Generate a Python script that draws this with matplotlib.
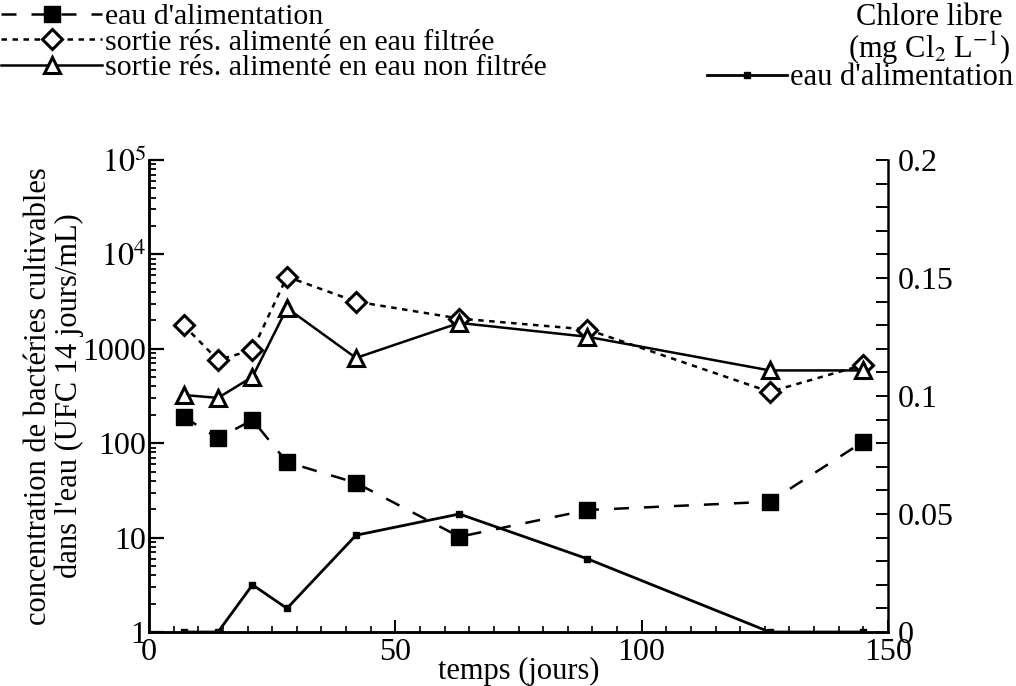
import numpy as np
import matplotlib
matplotlib.use("Agg")
import matplotlib.pyplot as plt
from matplotlib.ticker import FixedLocator, LogLocator, NullFormatter, MultipleLocator

plt.rcParams['font.family'] = ['Liberation Serif', 'DejaVu Serif']
plt.rcParams['font.size'] = 22
plt.rcParams['mathtext.fontset'] = 'stix'

# jours de prélèvement
jours = [7, 14, 21, 28, 42, 63, 89, 126, 145]
# bactéries cultivables (UFC 14 jours/mL)
eau_alim = [190, 113, 176, 63, 38, 10.2, 19.6, 24, 104]
sortie_filtree = [1780, 760, 970, 5800, 3160, 2090, 1600, 350, 675]
sortie_non_filtree = [324, 302, 505, 2700, 800, 1880, 1340, 590, 590]
# chlore libre (mg Cl2/L)
chlore = [0, 0, 0.02, 0.01, 0.041, 0.05, 0.031, 0, 0]

fig = plt.figure(figsize=(10.16, 6.86), dpi=100)
ax = fig.add_axes([0.1467, 0.0787, 0.874 - 0.1467, 0.7668 - 0.0787])
ax2 = ax.twinx()

l1, = ax.plot(jours, eau_alim, color='k', lw=1.8, dashes=(6, 6), marker='s', ms=11,
              mfc='k', mec='k', label="eau d'alimentation")
l2, = ax.plot(jours, sortie_filtree, color='k', lw=1.8, dashes=(2.2, 2.2), marker='D', ms=10,
              mfc='white', mec='k', mew=2.2, label="sortie rés. alimenté en eau filtrée")
l3, = ax.plot(jours, sortie_non_filtree, color='k', lw=1.8, ls='-', marker='^', ms=12,
              mfc='white', mec='k', mew=2.2, label="sortie rés. alimenté en eau non filtrée")
l4, = ax2.plot(jours, chlore, color='k', lw=2, ls='-', marker='s', ms=4,
               label="eau d'alimentation")

ax.set_yscale('log')
ax.set_ylim(1, 1e5)
ax.set_xlim(0, 150)
ax.yaxis.set_major_locator(FixedLocator([1, 10, 100, 1000, 1e4, 1e5]))
ax.set_yticklabels(['1', '10', '100', '1000', r'$10^4$', r'$10^5$'])
ax.yaxis.set_minor_locator(LogLocator(base=10, subs=np.arange(2, 10)))
ax.yaxis.set_minor_formatter(NullFormatter())
ax.xaxis.set_major_locator(MultipleLocator(50))
ax.xaxis.set_minor_locator(MultipleLocator(5))

ax2.set_ylim(0, 0.2)
ax2.yaxis.set_major_locator(FixedLocator([0, 0.05, 0.1, 0.15, 0.2]))
ax2.set_yticklabels(['0', '0.05', '0.1', '0.15', '0.2'])
ax2.yaxis.set_minor_locator(MultipleLocator(0.01))

for a in (ax, ax2):
    a.spines['top'].set_visible(False)
    for s in a.spines.values():
        s.set_linewidth(1.8)
ax.spines['right'].set_visible(False)

ax.tick_params(axis='y', which='major', direction='in', length=11, width=1.6, pad=2, labelsize=23)
ax.tick_params(axis='y', which='minor', direction='in', length=5, width=1.3)
ax.tick_params(axis='x', which='major', direction='in', length=9, width=1.4, pad=4, labelsize=23)
ax.tick_params(axis='x', which='minor', direction='in', length=4, width=1.2)
ax2.tick_params(axis='y', which='both', direction='in', length=9, width=1.4, pad=7, labelsize=23)

ax.set_xlabel('temps (jours)', labelpad=-7)
ax.set_ylabel("concentration de bactéries cultivables\ndans l'eau (UFC 14 jours/mL)",
              labelpad=-1, linespacing=1.05)

fig.legend(handles=[l1, l2, l3], loc='upper left', bbox_to_anchor=(0.0, 0.997),
           frameon=False, fontsize=21.5, handlelength=3.35, handletextpad=0.12, labelspacing=-0.05,
           borderaxespad=0.0, borderpad=0.05, numpoints=1)
fig.text(0.915, 0.975, 'Chlore libre', ha='center', va='center')
fig.text(0.915, 0.93, r'(mg Cl$_2$ L$^{-1}$)', ha='center', va='center')
fig.legend(handles=[l4], loc='upper right', bbox_to_anchor=(1.0, 0.912),
           frameon=False, handlelength=2.6, handletextpad=0.1, borderaxespad=0.0,
           borderpad=0.1, numpoints=1)

fig.savefig('out.png', dpi=100)
